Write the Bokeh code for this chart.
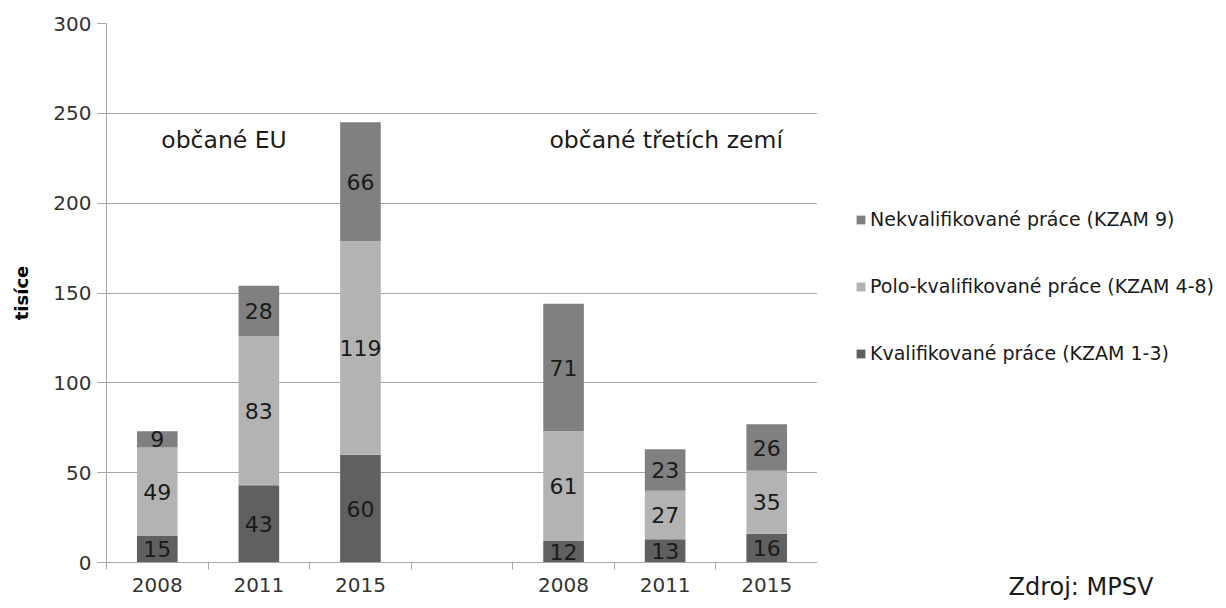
from bokeh.plotting import figure
from bokeh.layouts import row
from bokeh.models import Range1d, FixedTicker, ColumnDataSource, LabelSet, Label, Legend, LegendItem, Title
from bokeh.core.properties import value
from bokeh.embed import file_html
from bokeh.resources import INLINE

# ---- data ----
groups = ["občané EU", "občané třetích zemí"]
years = ["2008", "2011", "2015"]
series = ["Kvalifikované práce (KZAM 1-3)",
          "Polo-kvalifikované práce (KZAM 4-8)",
          "Nekvalifikované práce (KZAM 9)"]
kval = [15, 43, 60, 12, 13, 16]
polo = [49, 83, 119, 61, 27, 35]
nekval = [9, 28, 66, 71, 23, 26]
colors = ["#606060", "#b3b3b3", "#808080"]
source_text = "Zdroj: MPSV"
y_ticks = [0, 50, 100, 150, 200, 250, 300]

FONT = "DejaVu Sans"

# slot positions: 3 bars, empty slot, 3 bars
xs = []
labels = {}
for g in range(len(groups)):
    for i, yr in enumerate(years):
        c = g * (len(years) + 1) + i + 0.5
        xs.append(c)
        labels[c] = yr
nslots = len(groups) * (len(years) + 1) - 1

mid_k = [k / 2 for k in kval]
mid_p = [k + p / 2 for k, p in zip(kval, polo)]
mid_n = [k + p + n / 2 for k, p, n in zip(kval, polo, nekval)]

src = ColumnDataSource(dict(
    x=xs, kval=kval, polo=polo, nekval=nekval,
    mk=mid_k, mp=mid_p, mn=mid_n,
    tk=[str(v) for v in kval], tp=[str(v) for v in polo], tn=[str(v) for v in nekval],
))

p = figure(width=817, height=608, x_range=Range1d(0, nslots), y_range=Range1d(0, 300),
           output_backend="svg", toolbar_location=None,
           min_border_left=106, min_border_right=0, min_border_top=23, min_border_bottom=46)
p.outline_line_color = None
p.background_fill_color = "white"
p.border_fill_color = "white"

rs = p.vbar_stack(["kval", "polo", "nekval"], x="x", width=0.4, color=colors,
                  line_color=None, source=src)

for ycol, tcol in (("mk", "tk"), ("mp", "tp"), ("mn", "tn")):
    p.add_layout(LabelSet(x="x", y=ycol, text=tcol, source=src, text_align="center",
                          text_baseline="middle", text_font=value(FONT), text_font_size="22px",
                          text_color="#1a1a1a"))

# grid
p.xgrid.visible = False
p.ygrid.ticker = FixedTicker(ticks=y_ticks)
p.ygrid.grid_line_color = "#a6a6a6"
p.ygrid.grid_line_width = 1

# y axis
p.yaxis.ticker = FixedTicker(ticks=y_ticks)
p.yaxis.axis_line_color = "#a6a6a6"
p.yaxis.major_tick_line_color = "#a6a6a6"
p.yaxis.major_tick_out = 9
p.yaxis.major_tick_in = 0
p.yaxis.minor_tick_line_color = None
p.yaxis.major_label_text_font = FONT
p.yaxis.major_label_text_font_size = "20px"
p.yaxis.major_label_text_color = "#333333"
p.yaxis.major_label_standoff = 6
p.yaxis.axis_label = "tisíce"
p.yaxis.axis_label_text_font = FONT
p.yaxis.axis_label_text_font_style = "bold"
p.yaxis.axis_label_text_font_size = "18px"
p.yaxis.axis_label_text_color = "#000000"
p.yaxis.axis_label_standoff = 18

# x axis
p.xaxis.ticker = FixedTicker(ticks=xs, minor_ticks=list(range(nslots + 1)))
p.xaxis.major_label_overrides = labels
p.xaxis.axis_line_color = "#a6a6a6"
p.xaxis.major_tick_out = 0
p.xaxis.major_tick_in = 0
p.xaxis.minor_tick_line_color = "#a6a6a6"
p.xaxis.minor_tick_out = 7
p.xaxis.minor_tick_in = 0
p.xaxis.major_label_text_font = FONT
p.xaxis.major_label_text_font_size = "20px"
p.xaxis.major_label_text_color = "#333333"
p.xaxis.major_label_standoff = 8

# group titles
p.add_layout(Label(x=1.157, y=235, text=groups[0], text_align="center", text_baseline="middle",
                   text_font=FONT, text_font_size="23.5px", text_color="#1a1a1a"))
p.add_layout(Label(x=5.51, y=235, text=groups[1], text_align="center", text_baseline="middle",
                   text_font=FONT, text_font_size="23.5px", text_color="#1a1a1a"))

# side panel with legend and source note
q = figure(width=405, height=608, x_range=Range1d(0, 1), y_range=Range1d(0, 1),
           output_backend="svg", toolbar_location=None,
           min_border_left=0, min_border_right=0, min_border_top=23, min_border_bottom=46)
q.axis.visible = False
q.grid.visible = False
q.outline_line_color = None
q.border_fill_color = "white"

# legend swatches (renderers placed entirely outside the visible ranges)
dummies = [q.vbar(x=[-10], top=[-5], bottom=[-6], width=1, color=c, line_color=None)
           for c in colors]
items = [LegendItem(label=series[i], renderers=[dummies[i]]) for i in (2, 1, 0)]
legend = Legend(items=items, location=(38, 198), glyph_width=11, glyph_height=11,
                label_height=22, label_text_font=FONT, label_text_font_size="19px",
                label_text_color="#1a1a1a", spacing=45, padding=0, border_line_color=None,
                background_fill_alpha=0, label_standoff=4)
q.add_layout(legend)

q.add_layout(Title(text=source_text, align="left", offset=191, standoff=16,
                   text_font=FONT, text_font_size="24px", text_font_style="normal",
                   text_color="#1a1a1a"), "below")

layout = row(p, q)
open("out.html", "w").write(file_html(layout, INLINE))
